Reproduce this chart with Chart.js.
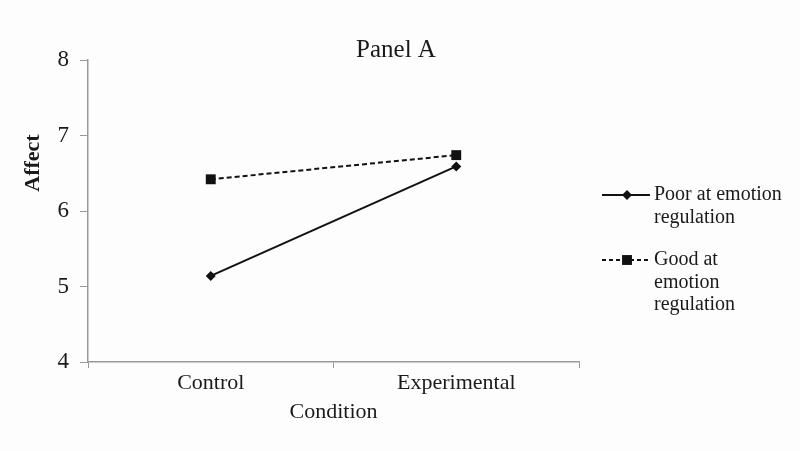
<!DOCTYPE html>
<html>
<head>
<meta charset="utf-8">
<script src="https://cdn.jsdelivr.net/npm/chart.js"></script>
<style>
  html, body { margin: 0; padding: 0; background: #fdfdfd; }
  #wrap { width: 800px; height: 451px; }
</style>
</head>
<body>
<div id="wrap"><canvas id="chart"></canvas></div>
<script>
const conditions = ['Control', 'Experimental'];
const poorRegulation = [5.14, 6.59];
const goodRegulation = [6.42, 6.74];
const yTicks = [4, 5, 6, 7, 8];

const serif = '"Liberation Serif", "DejaVu Serif", serif';

// titles and the legend on the right are drawn by hand, like the original figure
const textPlugin = {
    id: 'textPlugin',
    afterDraw(chart) {
        const ctx = chart.ctx;
        const area = chart.chartArea;
        ctx.save();
        ctx.fillStyle = '#1a1a1a';
        ctx.textBaseline = 'middle';

        ctx.font = '25px ' + serif;
        ctx.textAlign = 'center';
        ctx.fillText('Panel A', 396, 50);

        ctx.font = '22px ' + serif;
        ctx.fillText('Condition', (area.left + area.right) / 2, 412);

        ctx.save();
        ctx.translate(33, 163);
        ctx.rotate(-Math.PI / 2);
        ctx.font = 'bold 22px ' + serif;
        ctx.fillText('Affect', 0, 0);
        ctx.restore();

        const items = [
            { lines: ['Poor at emotion', 'regulation'], dash: [], style: 'rectRot', r: 5, y: 195 },
            { lines: ['Good at', 'emotion', 'regulation'], dash: [4, 3], style: 'rect', r: 7, y: 260 }
        ];
        ctx.textAlign = 'left';
        ctx.font = '20px ' + serif;
        items.forEach(it => {
            ctx.strokeStyle = '#111';
            ctx.lineWidth = 2;
            ctx.setLineDash(it.dash);
            ctx.beginPath();
            ctx.moveTo(602, it.y);
            ctx.lineTo(650, it.y);
            ctx.stroke();
            ctx.setLineDash([]);
            ctx.fillStyle = '#111';
            Chart.helpers.drawPoint(ctx, { pointStyle: it.style, radius: it.r, borderWidth: 0 }, 627, it.y);
            ctx.fillStyle = '#1a1a1a';
            it.lines.forEach((t, i) => ctx.fillText(t, 654, it.y + i * 22.5));
        });
        ctx.restore();
    }
};

new Chart(document.getElementById('chart'), {
    type: 'line',
    data: {
        labels: conditions,
        datasets: [
            {
                label: 'Poor at emotion regulation',
                data: poorRegulation,
                borderColor: '#111',
                backgroundColor: '#111',
                borderWidth: 2,
                pointStyle: 'rectRot',
                pointRadius: 5,
                pointBorderWidth: 0,
                tension: 0
            },
            {
                label: 'Good at emotion regulation',
                data: goodRegulation,
                borderColor: '#111',
                backgroundColor: '#111',
                borderWidth: 2,
                borderDash: [5, 3],
                pointStyle: 'rect',
                pointRadius: 7,
                pointBorderWidth: 0,
                tension: 0
            }
        ]
    },
    options: {
        responsive: true,
        maintainAspectRatio: false,
        animation: false,
        layout: { padding: { top: 60, right: 221, left: 0, bottom: 0 } },
        plugins: {
            legend: { display: false },
            tooltip: { enabled: false }
        },
        scales: {
            x: {
                offset: true,
                grid: { offset: true, drawOnChartArea: false, color: '#999', tickLength: 6 },
                border: { color: '#999', width: 1.5 },
                ticks: { color: '#1a1a1a', font: { family: serif, size: 22 }, padding: 2 },
                afterFit(s) { s.height = 89; }
            },
            y: {
                min: 4,
                max: 8,
                afterBuildTicks(s) { s.ticks = yTicks.map(v => ({ value: v })); },
                grid: { drawOnChartArea: false, color: '#999', tickLength: 8 },
                border: { color: '#999', width: 1.5 },
                ticks: { color: '#1a1a1a', font: { family: serif, size: 23 }, padding: 11 },
                afterFit(s) { s.width = 88; }
            }
        }
    },
    plugins: [textPlugin]
});
</script>
</body>
</html>
